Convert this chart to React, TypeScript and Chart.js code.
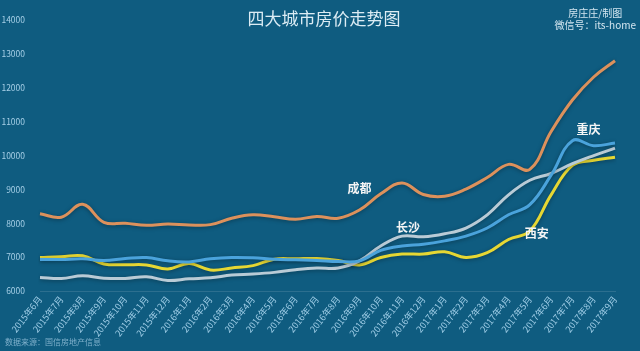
import React, { useEffect, useRef } from "react";
import { Chart, registerables } from "chart.js";

Chart.register(...registerables);

const months = [
  "2015年6月", "2015年7月", "2015年8月", "2015年9月", "2015年10月", "2015年11月", "2015年12月",
  "2016年1月", "2016年2月", "2016年3月", "2016年4月", "2016年5月", "2016年6月", "2016年7月",
  "2016年8月", "2016年9月", "2016年10月", "2016年11月", "2016年12月", "2017年1月", "2017年2月",
  "2017年3月", "2017年4月", "2017年5月", "2017年6月", "2017年7月", "2017年8月", "2017年9月",
];

const chengdu = [8280, 8180, 8560, 8030, 8000, 7940, 7980, 7950, 7960, 8150, 8250, 8190, 8120, 8200, 8150, 8390, 8870, 9190, 8850, 8800, 9010, 9350, 9740, 9590, 10710, 11640, 12320, 12800];
const chongqing = [6930, 6930, 6950, 6900, 6960, 6990, 6890, 6860, 6950, 6990, 6980, 6940, 6920, 6900, 6870, 6890, 7200, 7330, 7380, 7480, 7620, 7860, 8250, 8550, 9420, 10440, 10290, 10370];
const changsha = [6400, 6370, 6450, 6380, 6370, 6420, 6310, 6360, 6390, 6470, 6500, 6550, 6630, 6680, 6680, 6890, 7330, 7620, 7600, 7690, 7860, 8250, 8840, 9270, 9470, 9760, 10000, 10220];
const xian = [6990, 7010, 7040, 6800, 6775, 6770, 6650, 6810, 6620, 6680, 6750, 6940, 6950, 6960, 6900, 6770, 6990, 7090, 7090, 7160, 6990, 7130, 7520, 7770, 8840, 9710, 9860, 9950];

const cities = ["成都", "重庆", "长沙", "西安"];
const yMin = 6000;
const yMax = 14000;
const yStep = 1000;

const BG = "#0f5c80";
const FONT = "'Noto Sans CJK SC', 'Noto Sans', sans-serif";

// label placement: dataset index, point index, pixel offsets
const cityLabels = [
  { ds: 0, idx: 15, dx: 0, dy: -22 },
  { ds: 1, idx: 25, dx: 16, dy: -11 },
  { ds: 2, idx: 17, dx: 6, dy: -9 },
  { ds: 3, idx: 23, dx: 7, dy: 2 },
];

const labelPlugin = {
  id: "cityLabels",
  afterDatasetsDraw(chart: any) {
    const ctx = chart.ctx;
    ctx.save();
    ctx.font = `bold 12px ${FONT}`;
    ctx.fillStyle = "#f5f5f5";
    ctx.textAlign = "center";
    ctx.textBaseline = "middle";
    cityLabels.forEach((l) => {
      const pt = chart.getDatasetMeta(l.ds).data[l.idx];
      if (!pt) return;
      ctx.fillText(chart.data.datasets[l.ds].label, pt.x + l.dx, pt.y + l.dy);
    });
    ctx.restore();
  },
};

const glowPlugin = {
  id: "glow",
  beforeDatasetDraw(chart: any) {
    const ctx = chart.ctx;
    ctx.save();
    ctx.shadowColor = "rgba(0,0,0,0.35)";
    ctx.shadowBlur = 4;
    ctx.shadowOffsetY = 1;
  },
  afterDatasetDraw(chart: any) {
    chart.ctx.restore();
  },
};

export default function App() {
  const ref = useRef<HTMLCanvasElement>(null);

  useEffect(() => {
    if (!ref.current) return;
    const colors = ["#dc915c", "#4aa3dc", "#b9cbd6", "#e6d733"];
    const series = [chengdu, chongqing, changsha, xian];
    const chart = new Chart(ref.current, {
      type: "line",
      data: {
        labels: months,
        datasets: series.map((s, i) => ({
          label: cities[i],
          data: s,
          borderColor: colors[i],
          backgroundColor: colors[i],
          borderWidth: 3,
          pointRadius: 0,
          tension: 0.4,
          fill: false,
        })),
      },
      options: {
        animation: false,
        responsive: false,
        devicePixelRatio: 1,
        layout: { padding: { top: 17, right: 25, left: 0, bottom: 0 } },
        plugins: {
          legend: { display: false },
          tooltip: { enabled: false },
          title: { display: false },
        },
        scales: {
          x: {
            offset: false,
            grid: { display: false, drawTicks: false },
            border: { display: true, color: "rgba(255,255,255,0.12)", width: 1 },
            ticks: {
              color: "#9fcde6",
              font: { size: 9, family: FONT },
              minRotation: 52,
              maxRotation: 52,
              autoSkip: false,
              padding: 3,
            },
            afterFit: (s: any) => {
              s.height = 60;
            },
          },
          y: {
            min: yMin,
            max: yMax,
            grid: { display: false, drawTicks: false },
            border: { display: false },
            ticks: {
              stepSize: yStep,
              color: "#a6cfe6",
              font: { size: 8.5, family: FONT },
              padding: 15,
              callback: (v: any) => String(v),
            },
            afterFit: (s: any) => {
              s.width = 40;
            },
          },
        },
      },
      plugins: [glowPlugin, labelPlugin],
    });
    return () => chart.destroy();
  }, []);

  return (
    <div
      style={{
        position: "fixed",
        left: 0,
        top: 0,
        width: 640,
        height: 351,
        background: BG,
        overflow: "hidden",
        fontFamily: FONT,
      }}
    >
      <canvas ref={ref} width={640} height={351} style={{ display: "block", position: "absolute", left: 0, top: 0 }} />
      <div
        style={{
          position: "absolute",
          left: 0,
          width: 648,
          top: 6,
          textAlign: "center",
          color: "#dcecf4",
          fontSize: 17,
          lineHeight: "24px",
        }}
      >
        四大城市房价走势图
      </div>
      <div
        style={{
          position: "absolute",
          right: 4,
          top: 7,
          color: "#d3e6f0",
          fontSize: 10,
          lineHeight: "12px",
          textAlign: "center",
        }}
      >
        <div>房庄庄/制图</div>
        <div>微信号：its-home</div>
      </div>
      <div
        style={{
          position: "absolute",
          left: 5,
          top: 336,
          color: "#7fb0cb",
          fontSize: 8,
          lineHeight: "12px",
        }}
      >
        数据来源：国信房地产信息
      </div>
    </div>
  );
}
